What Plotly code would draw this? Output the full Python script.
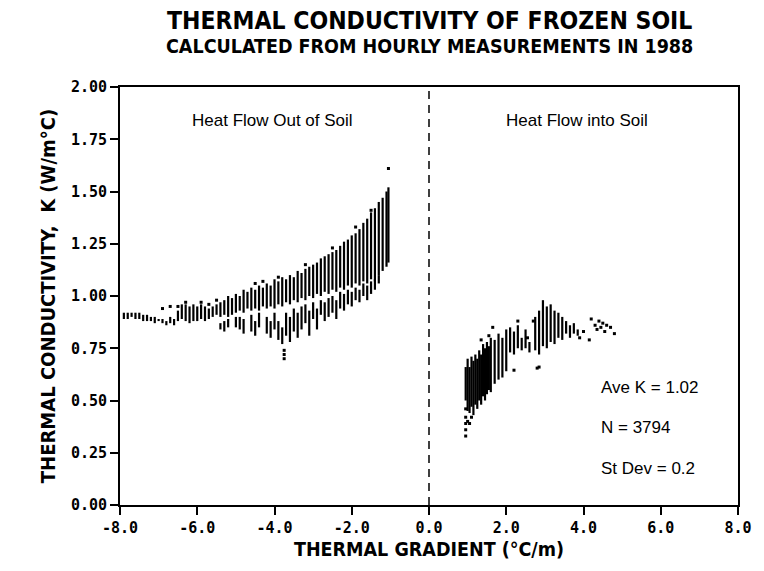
import plotly.graph_objects as go

# ---- data ----
# Heat flow out of soil: columns (gradient, K low, K high) of the dense band
out_x  = [-7.9,-7.8,-7.7,-7.6,-7.5,-7.4,-7.3,-7.2,-7.1,-7.0,-6.9,-6.8,-6.7,-6.6,-6.5,-6.4,-6.3,-6.2,-6.1,-6.0,
          -5.9,-5.8,-5.7,-5.6,-5.5,-5.4,-5.3,-5.2,-5.1,-5.0,-4.9,-4.8,-4.7,-4.6,-4.5,-4.4,-4.3,-4.2,-4.1,-4.0,
          -3.9,-3.8,-3.7,-3.6,-3.5,-3.4,-3.3,-3.2,-3.1,-3.0,-2.9,-2.8,-2.7,-2.6,-2.5,-2.4,-2.3,-2.2,-2.1,-2.0,
          -1.9,-1.8,-1.7,-1.6,-1.5,-1.4,-1.3,-1.2,-1.1,-1.05]
out_lo = [0.89,0.89,0.90,0.89,0.89,0.88,0.88,0.88,0.87,0.88,0.87,0.86,0.87,0.86,0.88,0.89,0.88,0.87,0.88,0.88,
          0.89,0.88,0.89,0.90,0.91,0.90,0.91,0.90,0.91,0.92,0.93,0.92,0.94,0.93,0.94,0.93,0.95,0.94,0.95,0.94,
          0.96,0.95,0.97,0.96,0.98,0.97,0.99,0.98,1.00,0.99,1.01,1.00,1.02,1.01,1.03,1.02,1.04,1.03,1.05,1.04,
          1.06,1.05,1.07,1.06,1.08,1.07,1.10,1.12,1.14,1.16]
out_hi = [0.92,0.92,0.92,0.92,0.92,0.91,0.91,0.90,0.90,0.89,0.89,0.88,0.90,0.89,0.93,0.96,0.96,0.95,0.96,0.95,
          0.96,0.95,0.94,0.95,0.96,0.97,0.98,1.00,0.99,1.01,1.00,1.03,1.02,1.04,1.03,1.05,1.04,1.06,1.05,1.08,
          1.07,1.09,1.08,1.10,1.09,1.12,1.11,1.13,1.14,1.15,1.16,1.18,1.19,1.20,1.21,1.22,1.24,1.26,1.27,1.29,
          1.30,1.32,1.35,1.37,1.40,1.42,1.45,1.47,1.50,1.52]
# secondary (lower) band of the out-of-soil data
low_x  = [-5.4,-5.3,-5.2,-5.0,-4.9,-4.8,-4.6,-4.5,-4.4,-4.2,-4.1,-4.0,-3.9,-3.8,-3.7,-3.6,-3.5,-3.4,-3.3,-3.2,
          -3.1,-3.0,-2.9,-2.8,-2.7,-2.6,-2.5,-2.4,-2.3,-2.2,-2.1,-2.0,-1.9,-1.8,-1.7,-1.6,-1.5,-1.4,-1.3]
low_lo = [0.84,0.83,0.85,0.85,0.84,0.82,0.83,0.81,0.85,0.82,0.80,0.84,0.79,0.77,0.81,0.78,0.83,0.80,0.84,0.87,
          0.81,0.89,0.84,0.91,0.88,0.90,0.92,0.89,0.94,0.93,0.96,0.95,0.98,0.97,1.00,0.98,1.01,1.03,1.06]
low_hi = [0.87,0.88,0.89,0.90,0.90,0.89,0.91,0.88,0.92,0.90,0.88,0.92,0.88,0.85,0.92,0.90,0.94,0.92,0.95,0.96,
          0.93,0.97,0.94,0.98,0.97,0.99,1.00,0.98,1.02,1.01,1.03,1.02,1.04,1.03,1.06,1.05,1.07,1.08,1.10]
# heat flow into soil: columns (gradient, K low, K high)
in_x  = [0.95,1.0,1.05,1.1,1.15,1.2,1.25,1.3,1.35,1.4,1.45,1.5,1.55,1.6,1.7,1.8,1.9,2.0,2.1,2.2,
         2.3,2.4,2.5,2.6,2.75,2.85,2.95,3.05,3.15,3.25,3.35,3.45,3.55,3.65,3.75,3.85]
in_lo = [0.50,0.45,0.44,0.47,0.43,0.48,0.46,0.50,0.48,0.52,0.50,0.53,0.55,0.54,0.58,0.60,0.61,0.64,0.73,0.72,
         0.75,0.74,0.75,0.73,0.74,0.72,0.76,0.75,0.78,0.77,0.80,0.79,0.82,0.80,0.82,0.81]
in_hi = [0.66,0.70,0.66,0.71,0.69,0.72,0.70,0.74,0.72,0.77,0.75,0.78,0.76,0.80,0.79,0.82,0.80,0.84,0.85,0.83,
         0.86,0.80,0.84,0.78,0.90,0.93,0.98,0.95,0.96,0.93,0.92,0.90,0.88,0.86,0.87,0.84]
# scattered single readings
pt_x = [-3.75,-3.75,-3.75,-1.05,-6.9,-6.7,-6.5,-6.3,-5.9,-5.7,-5.5,-4.5,-4.3,-3.9,-3.2,-2.5,-1.9,-1.5,
        0.95,0.95,0.95,0.95,0.95,1.0,1.05,1.1,1.55,2.2,2.8,2.85,2.7,3.9,4.0,
        4.15,4.2,4.3,4.35,4.4,4.45,4.5,4.55,4.6,4.7,4.8,1.35,1.65,2.3,2.55]
pt_y = [0.70,0.72,0.74,1.61,0.94,0.95,0.95,0.97,0.97,0.96,0.98,1.06,1.07,1.09,1.15,1.23,1.33,1.41,
        0.33,0.36,0.39,0.42,0.46,0.40,0.39,0.42,0.81,0.645,0.655,0.66,0.88,0.80,0.83,
        0.79,0.89,0.86,0.84,0.88,0.85,0.87,0.83,0.86,0.85,0.82,0.79,0.85,0.88,0.80]

title1 = "THERMAL CONDUCTIVITY OF FROZEN SOIL"
title2 = "CALCULATED FROM HOURLY MEASUREMENTS IN 1988"
x_title = "THERMAL GRADIENT (°C/m)"
y_title = "THERMAL CONDUCTIVITY,  K (W/m°C)"
x_ticks = [-8, -6, -4, -2, 0, 2, 4, 6, 8]
x_tick_labels = ["-8.0", "-6.0", "-4.0", "-2.0", "0.0", "2.0", "4.0", "6.0", "8.0"]
y_ticks = [0, 0.25, 0.5, 0.75, 1.0, 1.25, 1.5, 1.75, 2.0]
y_tick_labels = ["0.00", "0.25", "0.50", "0.75", "1.00", "1.25", "1.50", "1.75", "2.00"]
stats = ["Ave K = 1.02", "N = 3794", "St Dev = 0.2"]

# ---- build segments ----
def segs(xs, los, his):
    sx, sy = [], []
    for x, lo, hi in zip(xs, los, his):
        sx += [x, x, None]
        sy += [lo, hi, None]
    return sx, sy

fig = go.Figure()
for xs, los, his in [(out_x, out_lo, out_hi), (low_x, low_lo, low_hi), (in_x, in_lo, in_hi)]:
    sx, sy = segs(xs, los, his)
    fig.add_trace(go.Scatter(x=sx, y=sy, mode="lines", line=dict(color="black", width=2.2),
                             hoverinfo="skip", showlegend=False))
fig.add_trace(go.Scatter(x=pt_x, y=pt_y, mode="markers",
                         marker=dict(color="black", size=3, symbol="square"), showlegend=False))

# divider at zero gradient
fig.add_shape(type="line", x0=0, x1=0, y0=0, y1=2, xref="x", yref="y",
              line=dict(color="black", width=1.5, dash="8px,6px"))

cond = "DejaVu Sans Condensed, Liberation Sans, Arial"
tickfont = dict(family="DejaVu Sans Mono", size=15, color="black", weight="bold")

fig.update_layout(
    width=764, height=571,
    margin=dict(l=120, r=22, t=87, b=66),
    paper_bgcolor="white", plot_bgcolor="white",
    showlegend=False,
    xaxis=dict(range=[-8, 8], tickvals=x_ticks, ticktext=x_tick_labels, ticks="outside",
               ticklen=8, tickwidth=2, tickcolor="black", showgrid=False, zeroline=False,
               showline=True, linecolor="black", linewidth=2, mirror=True, tickfont=tickfont,
               title=dict(text=x_title, font=dict(family=cond, size=19.5, color="black", weight="bold"),
                          standoff=6)),
    yaxis=dict(range=[0, 2], tickvals=y_ticks, ticktext=y_tick_labels, ticks="outside",
               ticklen=8, tickwidth=2, tickcolor="black", showgrid=False, zeroline=False,
               showline=True, linecolor="black", linewidth=2, mirror=True, tickfont=tickfont,
               title=dict(text=y_title, font=dict(family=cond, size=20, color="black", weight="bold"),
                          standoff=10)),
)

fig.add_annotation(text=title1, x=0.5, xref="paper", y=(505 - 21) / 418, yref="paper",
                   showarrow=False, yanchor="middle",
                   font=dict(family=cond, size=24.5, color="black", weight="bold"))
fig.add_annotation(text=title2, x=0.5, xref="paper", y=(505 - 47) / 418, yref="paper",
                   showarrow=False, yanchor="middle",
                   font=dict(family=cond, size=19.5, color="black", weight="bold"))
fig.add_annotation(text="Heat Flow Out of Soil", x=-4.06, y=1.84, showarrow=False,
                   font=dict(family="Liberation Sans", size=17, color="black"))
fig.add_annotation(text="Heat Flow into Soil", x=3.83, y=1.84, showarrow=False,
                   font=dict(family="Liberation Sans", size=17, color="black"))
for txt, yv in zip(stats, [0.56, 0.37, 0.175]):
    fig.add_annotation(text=txt, x=4.41, y=yv, xanchor="left", showarrow=False,
                       font=dict(family="Liberation Sans", size=17, color="black"))

fig.write_html("out.html")
